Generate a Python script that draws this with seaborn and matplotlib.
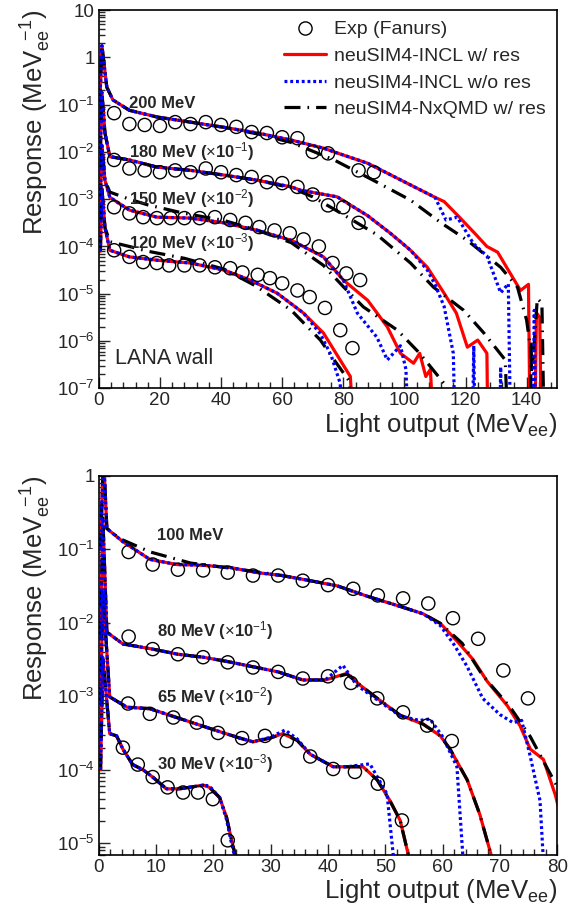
import numpy as np
import seaborn as sns
import matplotlib.pyplot as plt
from matplotlib.lines import Line2D
from matplotlib.ticker import MultipleLocator, LogLocator, FixedLocator, NullFormatter

# all response values are stored as log10(response), already multiplied by the 10^-n factor

# ---- LANA wall (top panel) ----
x200_res = [0.3, 1.0, 2.6, 4.6, 10, 19, 30, 41, 52, 63, 73.5, 77, 88, 99, 110, 113, 118, 123, 127, 130.5, 134, 138, 140.6, 141.3, 142.5, 143.2, 144.3, 145]
y200_res = [-1.0, 0.25, -0.63, -0.9, -1.12, -1.26, -1.37, -1.48, -1.6, -1.75, -1.92, -2.0, -2.24, -2.6, -2.96, -3.05, -3.38, -3.72, -4.0, -4.12, -4.5, -4.93, -4.8, -9, -9, -5.4, -5.5, -9]
x200_nores = [0.3, 1.0, 2.6, 4.6, 10, 19, 30, 41, 52, 63, 73.5, 77, 88, 99, 110, 113.6, 117.3, 122.6, 127, 131.5, 134, 135, 142, 142.5, 143.2]
y200_nores = [-1.0, 0.25, -0.63, -0.9, -1.12, -1.26, -1.37, -1.48, -1.6, -1.75, -1.92, -2.0, -2.24, -2.6, -2.96, -3.44, -3.38, -3.94, -4.2, -4.98, -4.79, -9, -9, -5.35, -9]
x200_qmd = [0.3, 1.0, 2.6, 4.6, 10, 19, 30, 41, 52, 63, 77, 91, 102, 112, 120.6, 131.5, 137, 140, 142, 143.5, 145, 146]
y200_qmd = [-1.0, 0.25, -0.63, -0.9, -1.12, -1.26, -1.37, -1.48, -1.62, -1.8, -2.17, -2.64, -3.02, -3.5, -3.87, -4.44, -4.86, -5.56, -6.5, -5.1, -5.2, -9]

x180_res = [0.5, 1.0, 2.0, 3.6, 10, 19, 30, 41, 52, 63, 66, 78, 88, 95.4, 102, 107.5, 113, 117, 120.6, 124, 127, 127.5]
y180_res = [-2.0, -0.74, -1.6, -2.1, -2.17, -2.32, -2.39, -2.49, -2.6, -2.74, -2.81, -2.95, -3.35, -3.72, -4.08, -4.44, -4.99, -5.41, -6.13, -5.98, -6.26, -9]
x180_nores = [0.5, 1.0, 2.0, 3.6, 10, 19, 30, 41, 52, 63, 66, 78, 88, 95.4, 102, 107.5, 110, 113, 116, 117, 122, 122.7, 123.3, 131, 131.5, 132]
y180_nores = [-2.0, -0.74, -1.6, -2.1, -2.17, -2.32, -2.39, -2.49, -2.6, -2.74, -2.81, -2.95, -3.35, -3.72, -4.08, -4.5, -4.8, -5.27, -6.26, -9, -9, -6.1, -9, -9, -6.55, -9]
x180_qmd = [0.5, 1.0, 2.0, 3.6, 10, 19, 30, 41, 52, 63, 70, 78, 91, 102, 109.5, 119.4, 126, 133, 134.5, 141, 141.5, 142]
y180_qmd = [-2.0, -0.74, -1.6, -2.1, -2.17, -2.32, -2.39, -2.49, -2.6, -2.76, -2.95, -3.25, -3.75, -4.35, -4.86, -5.35, -5.83, -6.4, -9, -9, -6.0, -9]

x150_res = [0.5, 1.0, 2.0, 3.6, 10, 19, 30, 41, 52, 63, 66, 73.5, 80, 88, 94.4, 98.7, 103, 105, 107, 108.5, 110.5]
y150_res = [-3.0, -1.86, -2.6, -2.96, -3.23, -3.38, -3.4, -3.5, -3.66, -3.87, -3.97, -4.22, -4.71, -5.14, -5.7, -6.26, -6.47, -6.26, -6.75, -6.6, -9]
x150_nores = [0.5, 1.0, 2.0, 3.6, 10, 19, 30, 41, 52, 63, 66, 73.5, 80, 84.6, 91, 94.4, 98.7, 100.5, 102]
y150_nores = [-3.0, -1.86, -2.6, -2.96, -3.23, -3.38, -3.4, -3.5, -3.66, -3.87, -3.97, -4.22, -4.71, -5.41, -5.92, -6.4, -6.1, -6.6, -9]
x150_qmd = [0.5, 1.0, 2.0, 3.6, 10, 16, 28, 41, 52, 63, 73.5, 80, 86.6, 97.7, 105, 113, 114]
y150_qmd = [-3.0, -1.86, -2.6, -2.85, -3.0, -3.12, -3.3, -3.45, -3.66, -3.92, -4.4, -4.85, -5.28, -5.77, -6.26, -6.9, -9]

x120_res = [0.5, 1.0, 2.0, 3.6, 10, 19, 30, 41, 49.5, 58.4, 67, 73.5, 78, 82.3, 84.5]
y120_res = [-4.1, -2.77, -3.6, -4.08, -4.22, -4.29, -4.35, -4.5, -4.71, -4.99, -5.41, -5.83, -6.3, -6.75, -9]
x120_nores = [0.5, 1.0, 2.0, 3.6, 10, 19, 30, 41, 49.5, 58.4, 67, 72.5, 76, 79, 80]
y120_nores = [-4.1, -2.77, -3.6, -4.08, -4.22, -4.29, -4.35, -4.5, -4.71, -4.99, -5.41, -5.85, -6.3, -6.9, -9]
x120_qmd = [0.5, 1.0, 2.0, 3.6, 10, 16, 28, 41, 51.5, 63, 72.5, 77, 82, 83.5]
y120_qmd = [-4.1, -2.77, -3.6, -3.9, -4.0, -4.1, -4.25, -4.48, -4.84, -5.35, -5.98, -6.4, -6.85, -9]

exp200_x = [5, 10, 15, 20, 25, 30, 35, 40, 45, 50, 55, 60, 65, 70, 75, 85, 90]
exp200_y = [-1.18, -1.41, -1.43, -1.45, -1.37, -1.41, -1.37, -1.43, -1.47, -1.58, -1.6, -1.69, -1.71, -2.0, -2.03, -2.39, -2.43]
exp180_x = [5, 10, 15, 20, 25, 30, 35, 40, 45, 50, 55, 60, 65, 70, 75, 80, 85]
exp180_y = [-2.17, -2.35, -2.39, -2.43, -2.39, -2.43, -2.35, -2.43, -2.49, -2.53, -2.64, -2.66, -2.74, -2.9, -3.13, -3.17, -3.5]
exp150_x = [5, 10, 14.5, 19, 23.5, 28, 33, 38, 43, 48, 52.5, 57.5, 62.5, 67, 72, 76.5, 81, 85.5]
exp150_y = [-3.17, -3.3, -3.38, -3.4, -3.4, -3.4, -3.4, -3.38, -3.44, -3.5, -3.59, -3.66, -3.72, -3.85, -4.0, -4.35, -4.57, -4.71]
exp120_x = [5, 10, 14.5, 19, 23, 28, 33, 38, 43, 47, 52, 56, 60, 65, 69, 74, 79, 83]
exp120_y = [-4.08, -4.22, -4.33, -4.35, -4.4, -4.4, -4.4, -4.44, -4.46, -4.55, -4.6, -4.67, -4.78, -4.93, -5.07, -5.3, -5.77, -6.15]

# ---- bottom panel ----
x100_res = [0.3, 0.8, 1.4, 4.2, 8.9, 13.6, 18, 22.9, 27.6, 32, 36.9, 41.6, 46.8, 52.6, 56.6, 59.6, 62.5, 65.3, 67.8, 71.3, 73.5, 75.3, 77.6, 79.7, 80.5]
y100_res = [-1.0, 0.3, -0.72, -0.9, -1.14, -1.21, -1.22, -1.25, -1.32, -1.36, -1.43, -1.5, -1.64, -1.78, -1.88, -2.01, -2.25, -2.5, -2.8, -3.13, -3.4, -3.72, -3.86, -4.35, -4.6]
x100_nores = [0.3, 0.8, 1.4, 4.2, 8.9, 13.6, 18, 22.9, 27.6, 32, 36.9, 41.6, 46.8, 52.6, 56.6, 59.6, 62, 64.3, 67, 70, 72.3, 73.8, 75.3, 77, 77.6, 78]
y100_nores = [-1.0, 0.3, -0.72, -0.9, -1.14, -1.21, -1.22, -1.25, -1.32, -1.36, -1.43, -1.5, -1.64, -1.78, -1.88, -2.04, -2.3, -2.6, -3.03, -3.25, -3.36, -3.33, -3.82, -4.42, -5.25, -9]
x100_qmd = [0.3, 0.8, 1.4, 3.7, 9, 16, 25, 32, 36.9, 41.6, 46.8, 52.6, 56.6, 59.6, 63.4, 67, 71.8, 75.3, 78.4, 80.5]
y100_qmd = [-1.0, 0.3, -0.72, -0.86, -1.04, -1.19, -1.28, -1.36, -1.43, -1.5, -1.64, -1.78, -1.88, -2.01, -2.28, -2.72, -3.15, -3.55, -4.0, -4.3]

x80_res = [0.3, 0.7, 1.4, 4.2, 9.4, 13.8, 18.2, 22.5, 26.9, 31.3, 35.6, 39.5, 43.3, 45.6, 48.6, 52.6, 56.6, 59.6, 61.3, 64.3, 66.5, 68.8, 69.8]
y80_res = [-2.2, -0.58, -2.13, -2.29, -2.36, -2.43, -2.47, -2.53, -2.6, -2.67, -2.78, -2.78, -2.69, -2.85, -3.03, -3.26, -3.38, -3.54, -3.72, -4.14, -4.61, -5.25, -9]
x80_nores = [0.3, 0.7, 1.4, 4.2, 9.4, 13.8, 18.2, 22.5, 26.9, 31.3, 35.6, 39.5, 42.6, 45, 48.6, 52.6, 56, 57.8, 60, 62.5, 63.6, 64]
y80_nores = [-2.2, -0.58, -2.13, -2.29, -2.36, -2.43, -2.47, -2.53, -2.6, -2.67, -2.78, -2.78, -2.58, -2.85, -3.05, -3.27, -3.33, -3.31, -3.55, -3.96, -5.25, -9]
x80_qmd = x80_res
y80_qmd = [-2.2, -0.58, -2.13, -2.29, -2.36, -2.43, -2.47, -2.53, -2.6, -2.67, -2.78, -2.78, -2.7, -2.85, -3.03, -3.26, -3.38, -3.54, -3.72, -4.14, -4.61, -5.25, -9]

x65_res = [0.3, 0.7, 1.9, 4.9, 8.9, 12.4, 17.1, 20.6, 24.6, 26.9, 29.9, 32.1, 34.6, 36.9, 40.9, 43.3, 46.1, 48.6, 50.8, 52.6, 54.3, 55]
y65_res = [-3.1, -1.56, -3.01, -3.15, -3.17, -3.26, -3.38, -3.47, -3.57, -3.62, -3.57, -3.51, -3.6, -3.79, -3.96, -3.96, -3.96, -4.14, -4.42, -4.69, -5.25, -9]
x65_nores = [0.3, 0.7, 1.9, 4.9, 8.9, 12.4, 17.1, 20.6, 24.6, 26.9, 29.9, 32.5, 34.6, 36.9, 40.9, 43.3, 47.3, 50.3, 51.4, 52]
y65_nores = [-3.1, -1.56, -3.01, -3.15, -3.17, -3.26, -3.38, -3.47, -3.57, -3.62, -3.56, -3.46, -3.58, -3.79, -3.96, -3.96, -3.92, -4.33, -5.17, -9]
x65_qmd = x65_res
y65_qmd = y65_res

x30_res = [0.3, 0.7, 1.9, 3.1, 4.2, 5.9, 7.7, 9.4, 11.8, 14.1, 18.2, 19.3, 21.1, 22.3, 23.2, 24.1, 24.6]
y30_res = [-4.0, -2.47, -3.51, -3.54, -3.72, -3.93, -4.0, -4.1, -4.26, -4.26, -4.21, -4.24, -4.38, -4.65, -4.97, -5.25, -9]
x30_nores = x30_res
y30_nores = [-4.0, -2.47, -3.51, -3.54, -3.72, -3.93, -4.0, -4.1, -4.26, -4.26, -4.21, -4.22, -4.38, -4.68, -5.02, -5.3, -9]
x30_qmd = x30_res
y30_qmd = y30_res

exp100_x = [5.2, 9.4, 13.8, 18.2, 22.5, 26.9, 31.3, 35.6, 40, 44.4, 48.7, 53.1, 57.5, 61.8, 66.2, 70.6, 74.9]
exp100_y = [-1.04, -1.21, -1.28, -1.29, -1.32, -1.36, -1.36, -1.43, -1.49, -1.54, -1.63, -1.67, -1.74, -1.94, -2.22, -2.65, -3.03]
exp80_x = [5.2, 9.4, 13.8, 18.2, 22.5, 26.9, 31.3, 35.6, 40, 44, 48.6, 53.1, 57.3, 61.6]
exp80_y = [-2.19, -2.36, -2.43, -2.47, -2.54, -2.61, -2.67, -2.76, -2.73, -2.82, -3.03, -3.22, -3.4, -3.61]
exp65_x = [5.1, 8.9, 13, 17.1, 20.8, 25, 29, 32.8, 36.9, 40.9, 44.7, 48.7, 52.9]
exp65_y = [-3.1, -3.24, -3.29, -3.36, -3.5, -3.57, -3.54, -3.61, -3.82, -3.99, -4.03, -4.19, -4.69]
exp30_x = [4.2, 6.8, 9.4, 12, 14.7, 17.3, 19.9, 22.5]
exp30_y = [-3.7, -3.93, -4.1, -4.24, -4.31, -4.31, -4.4, -4.96]

top_labels = ["200 MeV", r"180 MeV ($\times$10$^{-1}$)", r"150 MeV ($\times$10$^{-2}$)", r"120 MeV ($\times$10$^{-3}$)"]
top_label_y = [-0.97, -2.0, -2.98, -3.91]
bot_labels = ["100 MeV", r"80 MeV ($\times$10$^{-1}$)", r"65 MeV ($\times$10$^{-2}$)", r"30 MeV ($\times$10$^{-3}$)"]
bot_label_y = [-0.81, -2.11, -3.0, -3.92]

legend_names = ["Exp (Fanurs)", "neuSIM4-INCL w/ res", "neuSIM4-INCL w/o res", "neuSIM4-NxQMD w/ res"]
top_yticks = [1e-7, 1e-6, 1e-5, 1e-4, 1e-3, 1e-2, 1e-1, 1, 10]
top_yticklabels = [r"$10^{-7}$", r"$10^{-6}$", r"$10^{-5}$", r"$10^{-4}$", r"$10^{-3}$", r"$10^{-2}$", r"$10^{-1}$", "1", "10"]
bot_yticks = [1e-5, 1e-4, 1e-3, 1e-2, 1e-1, 1]
bot_yticklabels = [r"$10^{-5}$", r"$10^{-4}$", r"$10^{-3}$", r"$10^{-2}$", r"$10^{-1}$", "1"]

sns.set_style("ticks")
plt.rcParams['font.family'] = ['Liberation Sans', 'DejaVu Sans']
plt.rcParams['mathtext.fontset'] = 'custom'
plt.rcParams['mathtext.rm'] = 'Liberation Sans'
plt.rcParams['mathtext.it'] = 'Liberation Sans:italic'
plt.rcParams['mathtext.bf'] = 'Liberation Sans:bold'

RED, BLUE, BLK = "#ff0000", "#0000ff", "#000000"
LW = 2.3
ls_red = "-"
ls_blue = (0, (0.9, 0.9))
ls_blk = (0, (5, 2.2, 0.5, 2.2))


def curve(ax, xs, lg, color, ls, z):
    sns.lineplot(x=xs, y=np.power(10.0, lg), ax=ax, color=color, linestyle=ls,
                 lw=LW, zorder=z, sort=False, estimator=None)


def exp(ax, xs, lg):
    sns.scatterplot(x=xs, y=np.power(10.0, lg), ax=ax, marker="o", s=90,
                    facecolor="none", edgecolor="black", linewidth=1.0, zorder=5)


fig = plt.figure(figsize=(5.78, 9.18), dpi=100)
ax1 = fig.add_axes([0.171, 0.577, 0.793, 0.412])
ax2 = fig.add_axes([0.171, 0.069, 0.793, 0.413])

top_sets = [(x200_res, y200_res, x200_nores, y200_nores, x200_qmd, y200_qmd, exp200_x, exp200_y),
            (x180_res, y180_res, x180_nores, y180_nores, x180_qmd, y180_qmd, exp180_x, exp180_y),
            (x150_res, y150_res, x150_nores, y150_nores, x150_qmd, y150_qmd, exp150_x, exp150_y),
            (x120_res, y120_res, x120_nores, y120_nores, x120_qmd, y120_qmd, exp120_x, exp120_y)]
bot_sets = [(x100_res, y100_res, x100_nores, y100_nores, x100_qmd, y100_qmd, exp100_x, exp100_y),
            (x80_res, y80_res, x80_nores, y80_nores, x80_qmd, y80_qmd, exp80_x, exp80_y),
            (x65_res, y65_res, x65_nores, y65_nores, x65_qmd, y65_qmd, exp65_x, exp65_y),
            (x30_res, y30_res, x30_nores, y30_nores, x30_qmd, y30_qmd, exp30_x, exp30_y)]

for ax, sets in [(ax1, top_sets), (ax2, bot_sets)]:
    ax.set_yscale("log")
    for xr, yr, xn, yn, xq, yq, xe, ye in sets:
        curve(ax, xr, yr, RED, ls_red, 2)
        curve(ax, xq, yq, BLK, ls_blk, 3)
        curve(ax, xn, yn, BLUE, ls_blue, 4)
        exp(ax, xe, ye)

for txt, ly in zip(top_labels, top_label_y):
    ax1.text(9.8, 10 ** ly, txt, fontsize=12, fontweight="bold", va="center", ha="left")
for txt, ly in zip(bot_labels, bot_label_y):
    ax2.text(10.1, 10 ** ly, txt, fontsize=12, fontweight="bold", va="center", ha="left")
ax1.text(5.2, 10 ** -6.37, "LANA wall", fontsize=15.5, va="center", ha="left")

ax1.set_xlim(0, 150)
ax1.set_ylim(1e-7, 10)
ax2.set_xlim(0, 80)
ax2.set_ylim(7e-6, 1)
ax1.xaxis.set_major_locator(MultipleLocator(20))
ax1.xaxis.set_minor_locator(MultipleLocator(4))
ax2.xaxis.set_major_locator(MultipleLocator(10))
ax2.xaxis.set_minor_locator(MultipleLocator(2))

for ax, yt, ytl in [(ax1, top_yticks, top_yticklabels), (ax2, bot_yticks, bot_yticklabels)]:
    ax.yaxis.set_major_locator(FixedLocator(yt))
    ax.set_yticklabels(ytl)
    ax.yaxis.set_minor_locator(LogLocator(base=10, subs=np.arange(2, 10)))
    ax.yaxis.set_minor_formatter(NullFormatter())
    ax.tick_params(which="both", direction="in", top=False, right=False, labelsize=13.5, pad=3)
    ax.tick_params(which="major", length=8, width=1)
    ax.tick_params(which="minor", length=4, width=1)
    for sp in ax.spines.values():
        sp.set_linewidth(1.2)
        sp.set_color("black")
    ax.set_xlabel(r"Light output (MeV$_{\mathrm{ee}}$)", fontsize=18.5, loc="right", labelpad=1)
    ax.set_ylabel(r"Response (MeV$_{\mathrm{ee}}^{\ \ \mathrm{-1}}$)", fontsize=18.5, loc="top", labelpad=3)
    if ax.get_legend() is not None:
        ax.get_legend().remove()

handles = [Line2D([], [], marker="o", mfc="none", mec="black", ls="none", ms=9.5, mew=1.0),
           Line2D([], [], color=RED, ls=ls_red, lw=LW),
           Line2D([], [], color=BLUE, ls=ls_blue, lw=LW),
           Line2D([], [], color=BLK, ls=ls_blk, lw=LW)]
ax1.legend(handles, legend_names, loc="upper left", bbox_to_anchor=(0.38, 1.0), frameon=False,
           fontsize=14, handlelength=2.2, handletextpad=0.4, labelspacing=0.46, borderaxespad=0.15)

fig.savefig("out.png", dpi=100)
